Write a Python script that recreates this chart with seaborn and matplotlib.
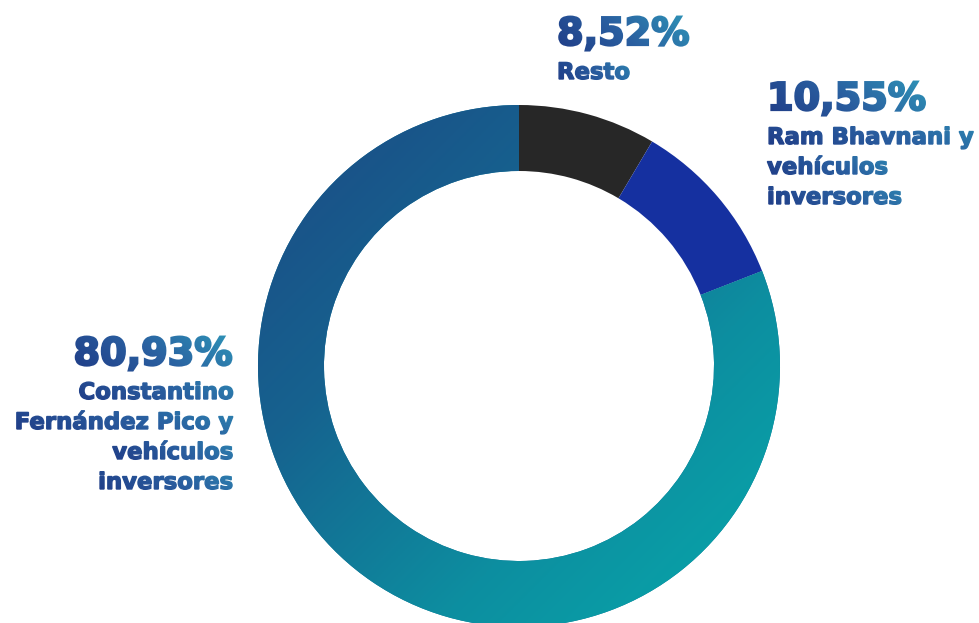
import numpy as np
import matplotlib
matplotlib.use("Agg")
import matplotlib.pyplot as plt
import seaborn as sns
import matplotlib.patheffects as pe
from matplotlib.colors import LinearSegmentedColormap
from matplotlib.font_manager import FontProperties

# Shareholding structure
holders = [
    "Resto",
    "Ram Bhavnani y\nvehículos\ninversores",
    "Constantino\nFernández Pico y\nvehículos\ninversores",
]
shares = [8.52, 10.55, 80.93]
slice_colors = ["#272727", "#1530A0", "#11779A"]

sns.set_theme(style="white")
plt.rcParams["font.family"] = ["DejaVu Sans"]
plt.rcParams["image.composite_image"] = False

W, H, DPI = 979, 623, 100
TEXT_BASE = "#2A5597"


def new_canvas(transparent=False):
    f = plt.figure(figsize=(W / DPI + 1e-9, H / DPI + 1e-9), dpi=DPI)
    a = f.add_axes([0, 0, 1, 1])
    a.set_axis_off()
    a.set_xlim(0, W)
    a.set_ylim(0, H)
    if transparent:
        f.patch.set_alpha(0)
    else:
        f.patch.set_facecolor("white")
    return f, a


fig, ax = new_canvas()

# donut geometry in pixel-like data units (y upward)
cx, cy, R, ring = 519, H - 366, 261, 66

wedges, _ = ax.pie(
    shares,
    startangle=90,
    counterclock=False,
    center=(cx, cy),
    radius=R,
    colors=slice_colors,
    wedgeprops=dict(width=ring, linewidth=0),
)

# diagonal blue-to-teal fill for the majority slice
ring_cmap = LinearSegmentedColormap.from_list("ring", ["#1C4984", "#16628F", "#0D8EA0", "#07A9AB"])
n = 300
gx, gy = np.meshgrid(np.linspace(0, 1, n), np.linspace(0, 1, n))
tgrid = (gx + (1 - gy)) / 2.0  # top-left -> bottom-right
im = ax.imshow(tgrid, cmap=ring_cmap, vmin=0, vmax=1,
               extent=(cx - R, cx + R, cy - R, cy + R), origin="lower",
               interpolation="bilinear", aspect="auto", zorder=2)
im.set_clip_path(wedges[2])

# label lines: (text, x, baseline y from top, size, align, stroke, gradient reach)
lines = []


def label_block(value, label, x, y_top_base, ha):
    pct = f"{value:.2f}".replace(".", ",") + "%"
    lines.append((pct, x, y_top_base, 27.5, ha, 1.6, 1.0))
    for i, line in enumerate(label.split("\n")):
        lines.append((line, x, y_top_base + 34 + 30 * i, 16.4, ha, 1.0, 0.85))


label_block(shares[0], holders[0], 557, 45, "left")
label_block(shares[1], holders[1], 767, 110, "left")
label_block(shares[2], holders[2], 233, 365, "right")


def put_text(a, spec, color):
    s, x, yb, size, ha, stroke, _ = spec
    fp = FontProperties(family="DejaVu Sans", weight="bold", size=size)
    # glyph outline filled and stroked in one pass for a heavier face
    return a.text(x, H - yb, s, fontproperties=fp, ha=ha, va="baseline",
                  color=color, zorder=3,
                  path_effects=[pe.PathPatchEffect(facecolor=color, edgecolor=color,
                                                   linewidth=stroke)])


for spec in lines:
    put_text(ax, spec, TEXT_BASE)

# glyph coverage mask for the gradient text fill
mfig, max_ = new_canvas(transparent=True)
mtexts = [put_text(max_, spec, "black") for spec in lines]
mfig.canvas.draw()
raw = np.asarray(mfig.canvas.buffer_rgba())[..., 3].astype(float) / 255.0
mrend = mfig.canvas.get_renderer()
mh, mw = raw.shape

text_cmap = LinearSegmentedColormap.from_list("txt", ["#1F3A85", "#2A5FA0", "#2E95B8"])
tfield = np.full((mh, mw), 0.35)
for spec, t in zip(lines, mtexts):
    bb = t.get_window_extent(mrend)
    c0, c1 = int(np.floor(bb.x0)) - 2, int(np.ceil(bb.x1)) + 2
    r0, r1 = int(np.floor(mh - bb.y1)) - 2, int(np.ceil(mh - bb.y0)) + 2
    c0, r0 = max(c0, 0), max(r0, 0)
    c1, r1 = min(c1, mw), min(r1, mh)
    xs = np.linspace(0, 1, c1 - c0)
    ys = np.linspace(1, 0, r1 - r0)  # 1 at top
    XX, YY = np.meshgrid(xs, ys)
    tfield[r0:r1, c0:c1] = (0.75 * XX + 0.25 * YY) * spec[6]
plt.close(mfig)

# gradient colour blended against the white page by glyph coverage,
# placed pixel-for-pixel over the labels
rgb = text_cmap(tfield)[..., :3]
overlay = np.zeros((mh, mw, 4))
overlay[..., :3] = rgb * raw[..., None] + (1 - raw[..., None])
overlay[..., 3] = (raw > 0.004).astype(float)
fig.figimage(overlay, xo=0, yo=0, origin="upper", zorder=5)

ax.set_xlim(0, W)
ax.set_ylim(0, H)

fig.savefig("out.png", dpi=DPI, facecolor="white")
